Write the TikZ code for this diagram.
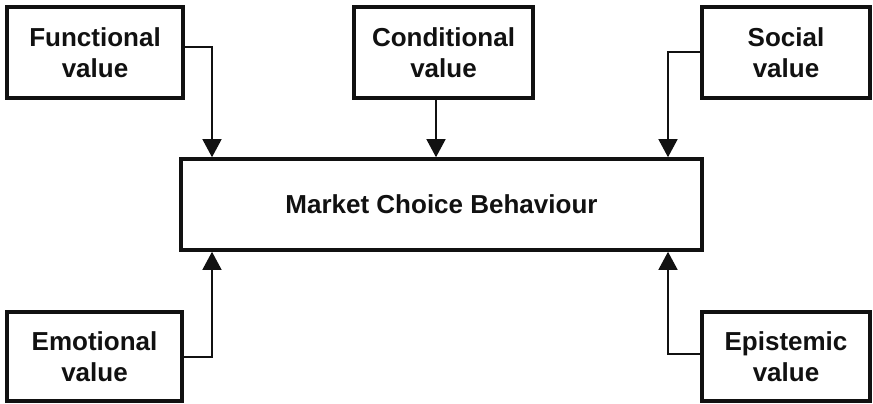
\documentclass[tikz,border=0pt]{standalone}
\usepackage{fontspec}
\setmainfont{Liberation Sans}
\usetikzlibrary{arrows.meta}
\definecolor{ink}{HTML}{111111}
\tikzset{
  valuebox/.style={draw=ink, line width=3.6pt, fill=white, align=center,
    inner sep=0pt, font=\bfseries\fontsize{26}{31}\selectfont, text=ink},
  conn/.style={draw=ink, line width=1.4pt,
    -{Triangle[width=19pt,length=18pt]}}
}
\begin{document}
\begin{tikzpicture}[x=1pt,y=-1pt]
  \useasboundingbox (0,0) rectangle (873,404);

  % value dimensions feeding the central box
  \node[valuebox, minimum width=176pt, minimum height=91pt] (fun) at (95,52.5) {Functional\\value};
  \node[valuebox, minimum width=179pt, minimum height=91pt] (cond) at (443.5,52.5) {Conditional\\value};
  \node[valuebox, minimum width=168pt, minimum height=91pt] (soc) at (786,52.5) {Social\\value};
  \node[valuebox, minimum width=175pt, minimum height=89pt] (emo) at (94.5,356.5) {Emotional\\value};
  \node[valuebox, minimum width=168pt, minimum height=89pt] (epi) at (786,356.5) {Epistemic\\value};

  % central box
  \node[valuebox, minimum width=521pt, minimum height=91pt] (main) at (441.5,204.5) {Market Choice Behaviour};

  % x positions of the vertical runs
  \coordinate (xl) at (212,0);
  \coordinate (xc) at (436,0);
  \coordinate (xr) at (668,0);

  % connectors
  \draw[conn] ([yshift=5.5pt]fun.east) -| (main.north -| xl);
  \draw[conn] (cond.south -| xc) -- (main.north -| xc);
  \draw[conn] ([yshift=0.5pt]soc.west) -| (main.north -| xr);
  \draw[conn] ([yshift=-0.5pt]emo.east) -| (main.south -| xl);
  \draw[conn] ([yshift=2.5pt]epi.west) -| (main.south -| xr);
\end{tikzpicture}
\end{document}
